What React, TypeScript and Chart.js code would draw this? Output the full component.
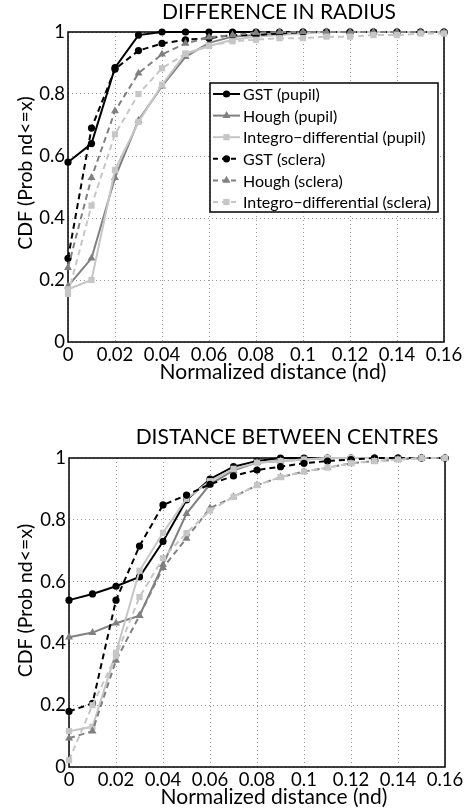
import React, { useEffect, useRef } from "react";
import { Chart, registerables } from "chart.js";

Chart.register(...registerables);

const FONT = "Lato, 'Noto Sans', sans-serif";

// ---------- data ----------
const ND = [0, 0.01, 0.02, 0.03, 0.04, 0.05, 0.06, 0.07, 0.08, 0.09, 0.1, 0.11, 0.12, 0.13, 0.14, 0.15, 0.16];
const X_TICKS = [0, 0.02, 0.04, 0.06, 0.08, 0.1, 0.12, 0.14, 0.16];
const Y_TICKS = [0, 0.2, 0.4, 0.6, 0.8, 1];
const SERIES_NAMES = [
  "GST (pupil)",
  "Hough (pupil)",
  "Integro\u2212differential (pupil)",
  "GST (sclera)",
  "Hough (sclera)",
  "Integro\u2212differential (sclera)",
];

// Difference in radius
const radiusGstPupil = [0.58, 0.64, 0.885, 0.99, 1, 1, 1, 1, 1, 1, 1, 1, 1, 1, 1, 1, 1];
const radiusHoughPupil = [0.18, 0.27, 0.53, 0.715, 0.825, 0.92, 0.965, 0.985, 0.99, 0.995, 1, 1, 1, 1, 1, 1, 1];
const radiusIntegroPupil = [0.17, 0.2, 0.555, 0.71, 0.83, 0.93, 0.955, 0.975, 0.985, 0.99, 0.995, 1, 1, 1, 1, 1, 1];
const radiusGstSclera = [0.27, 0.69, 0.88, 0.94, 0.963, 0.975, 0.98, 0.99, 0.99, 0.995, 1, 1, 1, 1, 1, 1, 1];
const radiusHoughSclera = [0.24, 0.53, 0.745, 0.867, 0.928, 0.963, 0.983, 0.99, 0.998, 1, 1, 1, 1, 1, 1, 1, 1];
const radiusIntegroSclera = [0.155, 0.44, 0.67, 0.8, 0.883, 0.93, 0.955, 0.97, 0.975, 0.98, 0.98, 0.985, 0.985, 0.99, 0.99, 0.995, 0.995];

// Distance between centres
const centreGstPupil = [0.54, 0.56, 0.585, 0.615, 0.73, 0.864, 0.932, 0.972, 0.99, 1, 1, 1, 1, 1, 1, 1, 1];
const centreHoughPupil = [0.42, 0.435, 0.465, 0.49, 0.655, 0.82, 0.915, 0.96, 0.985, 0.99, 0.995, 1, 1, 1, 1, 1, 1];
const centreIntegroPupil = [0.116, 0.13, 0.37, 0.635, 0.758, 0.868, 0.925, 0.965, 0.985, 0.99, 0.995, 1, 1, 1, 1, 1, 1];
const centreGstSclera = [0.18, 0.206, 0.54, 0.715, 0.848, 0.88, 0.915, 0.942, 0.961, 0.972, 0.983, 0.99, 0.995, 1, 1, 1, 1];
const centreHoughSclera = [0.093, 0.116, 0.345, 0.49, 0.645, 0.74, 0.838, 0.874, 0.912, 0.938, 0.956, 0.969, 0.983, 0.99, 0.995, 1, 1];
const centreIntegroSclera = [0.022, 0.2, 0.36, 0.55, 0.676, 0.757, 0.83, 0.874, 0.912, 0.938, 0.956, 0.969, 0.983, 0.99, 0.995, 1, 1];

// ---------- styles ----------
const COLORS = ["#000000", "#808080", "#c6c6c6", "#000000", "#808080", "#c6c6c6"];
const MARKERS = ["circle", "triangle", "rect", "circle", "triangle", "rect"];
const RADII = [3.6, 4.6, 4.4, 3.6, 4.6, 4.4];
const DASHED = [false, false, false, true, true, true];

type Cfg = {
  title: string;
  series: number[][];
  left: number;
  right: number;
  top: number;
  bottom: number;
  titleDx: number;
  titleDy: number;
  xTitleDx: number;
  xTitleDy: number;
  yTitleX: number;
  yTitleDy: number;
  legend: null | { dx: number; dy: number; w: number; h: number; row: number; first: number };
};

const W = 472;
const H = 405;

function drawMarker(ctx: CanvasRenderingContext2D, style: string, x: number, y: number, r: number) {
  ctx.beginPath();
  if (style === "circle") {
    ctx.arc(x, y, r, 0, Math.PI * 2);
  } else if (style === "triangle") {
    ctx.moveTo(x, y - r);
    ctx.lineTo(x + r * Math.sin(Math.PI / 3), y + r * 0.5);
    ctx.lineTo(x - r * Math.sin(Math.PI / 3), y + r * 0.5);
    ctx.closePath();
  } else {
    const s = r * Math.SQRT1_2;
    ctx.rect(x - s, y - s, 2 * s, 2 * s);
  }
  ctx.fill();
}

const decorPlugin = {
  id: "decor",
  beforeDatasetsDraw(chart: any) {
    const { ctx, chartArea: a } = chart;
    ctx.save();
    ctx.strokeStyle = "#000";
    ctx.lineWidth = 1.5;
    ctx.strokeRect(a.left, a.top, a.right - a.left, a.bottom - a.top);
    ctx.restore();
  },
  afterDraw(chart: any, _args: any, opts: any) {
    const { ctx, chartArea: a } = chart;
    const cfg: Cfg = opts.cfg;
    const cx = (a.left + a.right) / 2;
    const cy = (a.top + a.bottom) / 2;
    ctx.save();
    ctx.fillStyle = "#000";
    ctx.textAlign = "center";
    ctx.textBaseline = "middle";
    ctx.font = `21px ${FONT}`;
    ctx.fillText(cfg.title, cx + cfg.titleDx, a.top + cfg.titleDy);
    ctx.font = `21px ${FONT}`;
    ctx.fillText("Normalized distance (nd)", cx + cfg.xTitleDx, a.bottom + cfg.xTitleDy);
    ctx.save();
    ctx.translate(cfg.yTitleX, cy + cfg.yTitleDy);
    ctx.rotate(-Math.PI / 2);
    ctx.font = `19.5px ${FONT}`;
    ctx.fillText("CDF (Prob nd<=x)", 0, 0);
    ctx.restore();

    if (cfg.legend) {
      const L = cfg.legend;
      const bx = a.left + L.dx;
      const by = a.top + L.dy;
      ctx.fillStyle = "#fff";
      ctx.fillRect(bx, by, L.w, L.h);
      ctx.strokeStyle = "#000";
      ctx.lineWidth = 1.5;
      ctx.strokeRect(bx, by, L.w, L.h);
      ctx.font = `16px ${FONT}`;
      ctx.textAlign = "left";
      chart.data.datasets.forEach((ds: any, i: number) => {
        const y = by + L.first + i * L.row;
        ctx.strokeStyle = ds.borderColor;
        ctx.lineWidth = 2;
        ctx.setLineDash(ds.borderDash && ds.borderDash.length ? [5, 4] : []);
        ctx.beginPath();
        ctx.moveTo(bx + 3, y);
        ctx.lineTo(bx + 30, y);
        ctx.stroke();
        ctx.setLineDash([]);
        ctx.fillStyle = ds.pointBackgroundColor;
        drawMarker(ctx, ds.pointStyle, bx + 16.5, y, ds.pointRadius);
        ctx.fillStyle = "#000";
        ctx.fillText(ds.label, bx + 33, y + 1);
      });
    }
    ctx.restore();
  },
};

function CdfChart({ cfg }: { cfg: Cfg }) {
  const ref = useRef<HTMLCanvasElement>(null);
  useEffect(() => {
    if (!ref.current) return;
    const datasets = cfg.series.map((vals, i) => ({
      label: SERIES_NAMES[i],
      data: ND.map((x, j) => ({ x, y: vals[j] })),
      borderColor: COLORS[i],
      backgroundColor: COLORS[i],
      pointBackgroundColor: COLORS[i],
      pointBorderColor: COLORS[i],
      pointBorderWidth: 0,
      pointStyle: MARKERS[i],
      pointRadius: RADII[i],
      borderWidth: 2,
      borderDash: DASHED[i] ? [6, 4] : [],
      tension: 0,
      clip: false as any,
      order: 6 - i,
    }));
    const chart = new Chart(ref.current, {
      type: "line",
      data: { datasets },
      plugins: [decorPlugin],
      options: {
        responsive: false,
        animation: false,
        devicePixelRatio: 1,
        layout: { padding: { left: 0, right: W - cfg.right, top: cfg.top, bottom: 0 } },
        plugins: {
          legend: { display: false },
          tooltip: { enabled: false },
          title: { display: false },
          decor: { cfg },
        } as any,
        scales: {
          x: {
            type: "linear",
            min: 0,
            max: 0.16,
            afterBuildTicks: (s: any) => {
              s.ticks = X_TICKS.map((v) => ({ value: v }));
            },
            afterFit: (s: any) => {
              s.height = H - cfg.bottom;
            },
            ticks: {
              autoSkip: false,
              maxRotation: 0,
              padding: 2,
              color: "#000",
              font: { family: FONT, size: 18.5 },
              callback: (v: any) => String(v),
            },
            grid: { color: "#9a9a9a", lineWidth: 1, drawTicks: false },
            border: { display: false, dash: [1, 3] },
          },
          y: {
            type: "linear",
            min: 0,
            max: 1,
            afterBuildTicks: (s: any) => {
              s.ticks = Y_TICKS.map((v) => ({ value: v }));
            },
            afterFit: (s: any) => {
              s.width = cfg.left;
            },
            ticks: {
              padding: 3,
              color: "#000",
              font: { family: FONT, size: 18.5 },
              callback: (v: any) => String(v),
            },
            grid: { color: "#9a9a9a", lineWidth: 1, drawTicks: false },
            border: { display: false, dash: [1, 3] },
          },
        },
      },
    });
    return () => chart.destroy();
  }, [cfg]);
  return <canvas ref={ref} width={W} height={H} style={{ display: "block", width: W, height: H }} />;
}

const TOP_CFG: Cfg = {
  title: "DIFFERENCE IN RADIUS",
  series: [radiusGstPupil, radiusHoughPupil, radiusIntegroPupil, radiusGstSclera, radiusHoughSclera, radiusIntegroSclera],
  left: 68,
  right: 444,
  top: 32,
  bottom: 342,
  titleDx: 23,
  titleDy: -20,
  xTitleDx: 17,
  xTitleDy: 30,
  yTitleX: 26,
  yTitleDy: -14,
  legend: { dx: 142, dy: 51, w: 228, h: 129, row: 21.6, first: 11 },
};

const BOTTOM_CFG: Cfg = {
  title: "DISTANCE BETWEEN CENTRES",
  series: [centreGstPupil, centreHoughPupil, centreIntegroPupil, centreGstSclera, centreHoughSclera, centreIntegroSclera],
  left: 69,
  right: 445,
  top: 53,
  bottom: 362,
  titleDx: 30,
  titleDy: -20.5,
  xTitleDx: 17,
  xTitleDy: 30,
  yTitleX: 26,
  yTitleDy: -12,
  legend: null,
};

export default function App() {
  return (
    <div style={{ position: "absolute", left: 0, top: 0, width: W, height: 810, background: "#fff" }}>
      <CdfChart cfg={TOP_CFG} />
      <CdfChart cfg={BOTTOM_CFG} />
    </div>
  );
}
